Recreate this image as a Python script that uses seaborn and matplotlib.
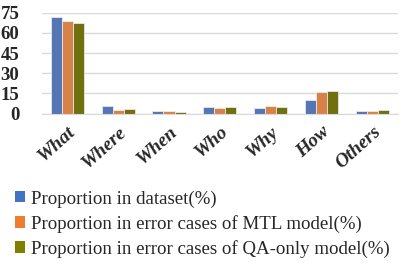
import matplotlib
matplotlib.use("Agg")
import matplotlib.pyplot as plt
import seaborn as sns
import pandas as pd
from matplotlib.patches import Patch

categories = ["What", "Where", "When", "Who", "Why", "How", "Others"]
dataset = [71.6, 5.7, 2.0, 5.0, 4.5, 10.2, 2.2]
mtl = [68.6, 3.0, 2.0, 4.0, 5.7, 15.9, 2.2]
qa_only = [67.3, 3.5, 1.5, 5.0, 4.7, 17.1, 2.5]
series_names = ["Proportion in dataset(%)",
                "Proportion in error cases of MTL model(%)",
                "Proportion in error cases of QA-only model(%)"]
colors = ["#4472C4", "#ED7D31", "#808000"]
yticks = [0, 15, 30, 45, 60, 75]

rows = []
for name, vals in zip(series_names, [dataset, mtl, qa_only]):
    for c, v in zip(categories, vals):
        rows.append({"cat": c, "series": name, "val": v})
df = pd.DataFrame(rows)

sns.set_style("white")
plt.rcParams["font.family"] = ["Liberation Serif", "DejaVu Serif"]

fig = plt.figure(figsize=(4.05, 2.66), dpi=100)
ax = fig.add_axes([0.103, 0.5726, 0.880, 0.3797])
sns.barplot(data=df, x="cat", y="val", hue="series", palette=colors,
            width=0.65, edgecolor="#f2f2f2", linewidth=0.5, ax=ax,
            legend=False, zorder=3)
ax.set_ylim(0, 75)
ax.set_yticks(yticks)
ax.set_yticklabels([str(t) for t in yticks], fontsize=13.5, fontweight="bold")
ax.set_xticks(range(len(categories)))
ax.set_xticklabels(categories, fontsize=14, fontweight="bold", style="italic",
                   rotation=42, ha="right", rotation_mode="anchor")
ax.tick_params(axis="x", length=0, pad=7)
ax.tick_params(axis="y", length=0, pad=16)
ax.set_xlabel("")
ax.set_ylabel("")
ax.grid(axis="y", color="#D9D9D9", linewidth=1.0, zorder=0)
for s in ["top", "right", "left"]:
    ax.spines[s].set_visible(False)
ax.spines["bottom"].set_color("#D9D9D9")
ax.spines["bottom"].set_zorder(4)
ax.set_xlim(-0.5, len(categories) - 0.5)

handles = [Patch(facecolor=c, edgecolor="none") for c in colors]
fig.legend(handles, series_names, loc="upper left", bbox_to_anchor=(0.037, 0.285),
           frameon=False, fontsize=13.6, handlelength=0.55, handleheight=0.55,
           handletextpad=0.3, labelspacing=0.38, borderpad=0, borderaxespad=0)

fig.savefig("out.png", dpi=100)
